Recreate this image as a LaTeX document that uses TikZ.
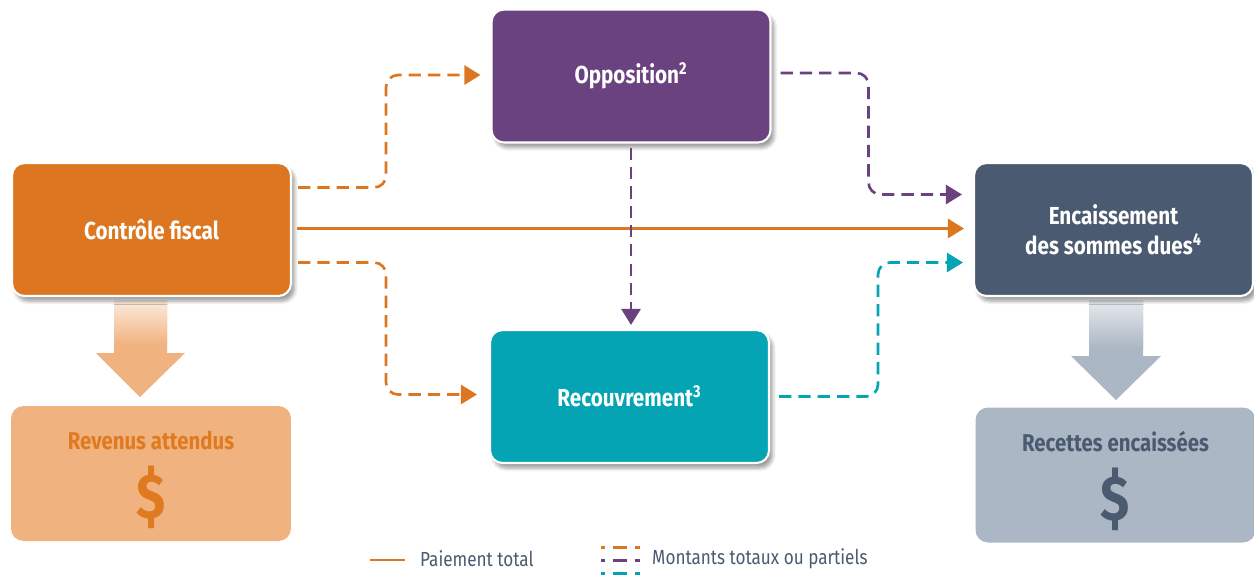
\documentclass[tikz,border=0pt]{standalone}
\usepackage{fontspec}
\setmainfont{Fira Sans}[FakeStretch=0.84]
\usetikzlibrary{arrows.meta,calc,shadows.blur}
\definecolor{cforange}{HTML}{DD7621}
\definecolor{cfpurple}{HTML}{6B4280}
\definecolor{cfteal}{HTML}{04A4B5}
\definecolor{cfslate}{HTML}{4A5A70}
\definecolor{cflight}{HTML}{F0B27F}
\definecolor{cfgray}{HTML}{ABB7C4}
\definecolor{cfdark}{HTML}{E07A20}
\tikzset{
    box/.style={draw=white, line width=1.2pt, rounded corners=0.25cm,
        minimum width=5.58cm, minimum height=2.66cm, align=center, text=white,
        font=\bfseries\fontsize{14}{17}\selectfont,
        blur shadow={shadow xshift=0.07cm, shadow yshift=-0.1cm, shadow opacity=40, shadow blur steps=6}},
    resultbox/.style={rounded corners=0.25cm, minimum width=5.6cm, minimum height=2.7cm},
    resulttxt/.style={font=\bfseries\fontsize{13.8}{17}\selectfont},
    dollar/.style={font=\bfseries\fontsize{36}{36}\selectfont},
    flow/.style={line width=1.5pt, -{Triangle[length=0.32cm,width=0.38cm]}},
    dashflow/.style={flow, dash pattern=on 7pt off 4pt, rounded corners=0.24cm},
    legend/.style={text=cfslate, font=\fontsize{11.6}{14}\selectfont, anchor=west},
}

\begin{document}
\begin{tikzpicture}[x=0.02cm, y=-0.02cm]
\useasboundingbox (0,0) rectangle (1254,576);

% big arrows down to the results
\fill[cflight] (114,300) -- (167,300) -- (167,353) -- (185,353) -- (140,397) -- (96,353) -- (114,353) -- cycle;
\shade[top color=cflight!25, bottom color=cflight] (114,300) rectangle (167,345);
\fill[cfgray] (1089,300) -- (1143,300) -- (1143,356) -- (1161,356) -- (1116,400) -- (1071,356) -- (1089,356) -- cycle;
\shade[top color=cfgray!30, bottom color=cfgray] (1089,300) rectangle (1143,348);

\node[box, fill=cforange] (control) at (151.5,229.5) {Contrôle fiscal};
\node[box, fill=cfpurple] (opposition) at (631,76) {Opposition\textsuperscript{2}};
\node[box, fill=cfteal] (recouvrement) at (629.5,396.5) {Recouvrement\textsuperscript{3}};
\node[box, fill=cfslate] (encaissement) at (1113.5,229.5) {Encaissement\\des sommes dues\textsuperscript{4}};

\node[resultbox, fill=cflight] (revenus) at (151,473.5) {};
\node[resulttxt, text=cfdark] (revenustxt) at (151,440) {Revenus attendus};
\node[dollar, text=cfdark] (revenusdollar) at (151,497) {\$};
\node[resultbox, fill=cfgray] (recettes) at (1115.5,475) {};
\node[resulttxt, text=cfslate] (recettestxt) at (1115.5,442) {Recettes encaissées};
\node[dollar, text=cfslate] (recettesdollar) at (1115.5,499) {\$};

% flows
\draw[flow, cforange] ($(control.east)+(5,-1)$) -- ($(encaissement.west)+(-9,-1)$);
\draw[dashflow, cforange] ($(control.east)+(6,-42)$) -- ++(88,0) |- ($(opposition.west)+(-10,-1)$);
\draw[dashflow, cforange] ($(control.east)+(6,33)$) -- ++(88,0) |- ($(recouvrement.west)+(-12,-2)$);
\draw[dashflow, cfpurple] ($(opposition.east)+(9,-3)$) -- ++(88,0) |- ($(encaissement.west)+(-11,-35)$);
\draw[dashflow, cfpurple] ($(opposition.south)+(0,4)$) -- ($(opposition.south |- recouvrement.north)+(0,-4)$);
\draw[dashflow, cfteal] ($(recouvrement.east)+(9,0)$) -- ++(99,0) |- ($(encaissement.west)+(-10,33)$);

% legend
\node[legend] (paiement) at (414,559) {Paiement total};
\draw[cforange, line width=1.6pt] ($(paiement.west)+(-44,1)$) -- ++(35,0);
\node[legend] (montants) at (646,559) {Montants totaux ou partiels};
\foreach \c/\dy in {cforange/-12, cfpurple/1, cfteal/14}
    \draw[\c, line width=1.7pt, dash pattern=on 8pt off 4.5pt, dash phase=5.5pt] ($(montants.west)+(-45,\dy)$) -- ++(39,0);
\end{tikzpicture}
\end{document}
